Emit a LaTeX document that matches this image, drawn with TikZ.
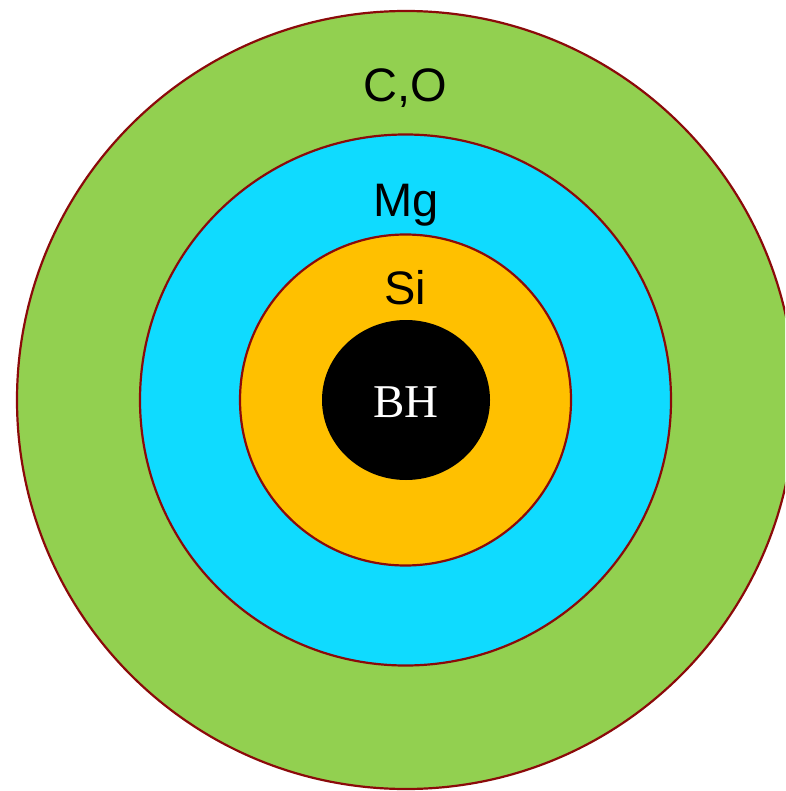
\documentclass[tikz,border=0pt]{standalone}
\usepackage{fontspec}
\setmainfont{Liberation Serif}
\setsansfont{Liberation Sans}
\usetikzlibrary{shapes.geometric}
\definecolor{shellgreen}{HTML}{92D050}
\definecolor{shellcyan}{HTML}{0FDBFF}
\definecolor{shellorange}{HTML}{FFC000}
\definecolor{rimred}{HTML}{8B0A0A}
\begin{document}
\begin{tikzpicture}[x=1pt,y=-1pt,
  shell/.style={circle, draw=rimred, line width=2.2pt, inner sep=0pt},
  shelllabel/.style={anchor=base, inner sep=0pt, font=\sffamily\fontsize{47}{50}\selectfont}]
\useasboundingbox (0,0) rectangle (785,791);
\clip (0,0) rectangle (785,791);
\node[shell, fill=shellgreen, minimum size=778pt] (co) at (406,400) {};
\node[shell, fill=shellcyan, minimum size=531pt] (mg) at (405.5,400) {};
\node[shell, fill=shellorange, minimum size=331pt] (si) at (405.5,400) {};
\node[ellipse, fill=black, minimum width=168pt, minimum height=160pt, inner sep=0pt] (bh) at (406,400) {};
\node[shelllabel] (colabel) at (405.5,102) {C,O};
\node[shelllabel] (mglabel) at (406,217) {Mg};
\node[shelllabel] (silabel) at (405.5,304) {Si};
\node[anchor=base, inner sep=0pt, text=white, font=\fontsize{47}{50}\selectfont] (bhlabel) at (406,417) {BH};
\end{tikzpicture}
\end{document}
